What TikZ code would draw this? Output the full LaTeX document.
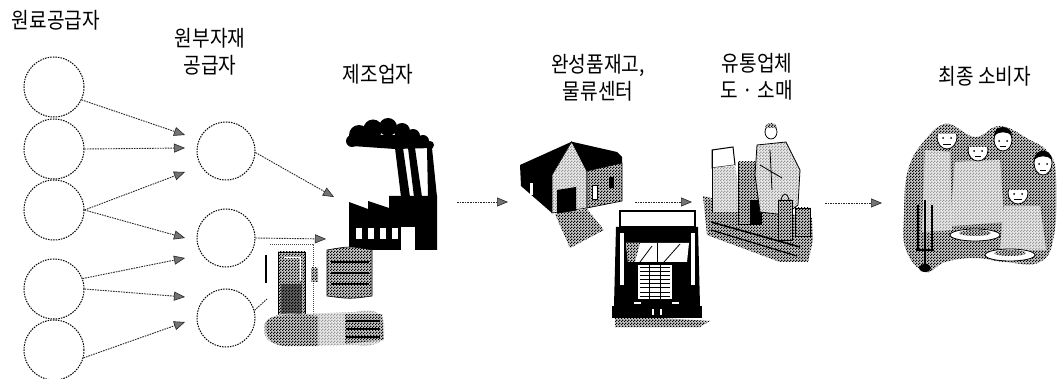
\documentclass[tikz,border=0pt]{standalone}
\usepackage{fontspec}
\newfontfamily\kr[FakeStretch=0.87]{Noto Sans CJK KR}
\usetikzlibrary{arrows.meta,patterns.meta}

% checkerboard used for the halftone clip-art fills
\tikzdeclarepattern{
  name=dither, type=uncolored,
  bottom left={(0pt,0pt)}, top right={(3pt,3pt)}, tile size={(3pt,3pt)},
  code={
    \pgfpathrectangle{\pgfpointorigin}{\pgfpoint{1.5pt}{1.5pt}}
    \pgfpathrectangle{\pgfpoint{1.5pt}{1.5pt}}{\pgfpoint{1.5pt}{1.5pt}}
    \pgfusepath{fill}
  }
}

\begin{document}
\begin{tikzpicture}[x=1pt,y=-1pt,
  heading/.style={font=\kr\fontsize{22}{27}\selectfont, align=center, inner sep=0pt},
  supplier/.style={circle, draw=black, dash pattern=on 1.5pt off 1.1pt,
    line width=1pt, minimum size=60pt, inner sep=0pt},
  flow/.style={draw=black!85, dash pattern=on 1.6pt off 1pt, line width=0.9pt,
    -{Triangle[length=11pt,width=9pt,fill=black!55,line width=0.6pt]}},
  dith/.style={fill=black!20, postaction={pattern=dither, pattern color=#1}},
  dith/.default=black,
  light/.style={fill=black!8, postaction={pattern=dither, pattern color=black!40}}]

\useasboundingbox (0,0) rectangle (1057,379);
\fill[white] (0,0) rectangle (1057,379);

% ---------- headings ----------
\node[heading] (lraw) at (56,20)  {원료공급자};
\node[heading] (lsub) at (210,52) {원부자재\\공급자};
\node[heading] (lmfg) at (378,74) {제조업자};
\node[heading] (lwh)  at (598,78) {완성품재고,\\물류센터};
\node[heading] (lret) at (757,77) {유통업체\\도 · 소매};
\node[heading] (lcon) at (985,76) {최종 소비자};

% ---------- raw material suppliers ----------
\node[supplier] (c1) at (54,87)  {};
\node[supplier] (c2) at (54,149) {};
\node[supplier] (c3) at (54,210) {};
\node[supplier] (c4) at (54,289) {};
\node[supplier] (c5) at (54,350) {};

% ---------- component suppliers ----------
\node[supplier, minimum size=58pt] (cA) at (226,151) {};
\node[supplier, minimum size=58pt] (cB) at (226,238) {};
\node[supplier, minimum size=58pt] (cC) at (226,318) {};

\coordinate (t1) at (185,135);
\coordinate (t2) at (185,148);
\coordinate (t3) at (185,172);
\coordinate (t4) at (185,238);
\coordinate (t5) at (185,258);
\coordinate (t6) at (185,297);
\coordinate (t7) at (185,322);
\draw[flow] (c1.-25) -- (t1);
\draw[flow] (c2.0)   -- (t2);
\draw[flow] (c3.0)   -- (t3);
\draw[flow] (c3.0)   -- (t4);
\draw[flow] (c4.20)  -- (t5);
\draw[flow] (c4.0)   -- (t6);
\draw[flow] (c5.-15) -- (t7);

\coordinate (fa) at (334,197);
\coordinate (fb) at (326,239);
\coordinate (mat) at (267,299);
\draw[flow] (cA.-3) -- (fa);
\draw[flow] (cB.0) -- (fb);
\draw[draw=black!85, dash pattern=on 1.6pt off 1pt, line width=0.9pt] (cC.15) -- (mat);

% ---------- factory ----------
\fill (352,141) circle (6);
\fill (359,135) circle (10);
\fill (373,129) circle (9.5);
\fill (388,127) circle (9);
\fill (402,131) circle (8);
\fill (413,136) circle (7);
\fill (423,141) circle (6);
\fill (430,145) circle (4);
\fill (355,134) -- (424,136) -- (433,148) -- (395,149) -- (352,146) -- cycle;
\fill (395,148) -- (403,148) -- (410,197) -- (401,197) -- cycle;
\fill (408,148) -- (415,148) -- (422,197) -- (414,197) -- cycle;
\fill (427,148) -- (432,148) -- (437,197) -- (428,197) -- cycle;
\fill (349,250) -- (349,202) -- (368,209) -- (368,201) -- (389,208) -- (389,196)
      -- (437,196) -- (437,250) -- cycle;
\fill[white] (356,228) rectangle (362,239);
\fill[white] (368,228) rectangle (374,239);
\fill[white] (380,228) rectangle (386,239);
\fill[white] (392,228) rectangle (398,239);
\fill[white] (401,227) rectangle (415,250);

% ---------- materials in hand ----------
\draw[line width=1.2pt] (266,255) -- (266,283);
\draw[black!70, dash pattern=on 1pt off 1pt, line width=0.8pt]
  (270,244) -- (313,244) -- (313,318);
\path[dith] (278,252) rectangle (305,318);
\fill[black!60] (281,284) rectangle (302,316);
\path[pattern=dither, pattern color=black] (281,284) rectangle (302,316);
\draw[line width=0.7pt] (278,252) rectangle (305,318);
\draw[white, line width=1pt] (284,258) -- (300,258) -- (300,280);
\path[dith] (311,268) rectangle (318,282);
\path[dith] (327,250) .. controls (350,246) .. (372,250) -- (372,296)
  .. controls (350,299) .. (327,296) -- cycle;
\draw[line width=0.6pt] (327,250) .. controls (350,246) .. (372,250) -- (372,296)
  .. controls (350,299) .. (327,296) -- cycle;
\foreach \yy in {262,273,284} \draw[line width=1.4pt] (331,\yy) -- (369,\yy);
\path[light] (264,330) .. controls (262,318) and (275,312) .. (300,314) -- (355,312)
  .. controls (375,308) and (386,312) .. (384,330)
  .. controls (386,345) and (370,347) .. (355,345) -- (290,346)
  .. controls (272,346) and (264,340) .. (264,330) -- cycle;
\path[dith] (266,322) .. controls (270,314) and (300,313) .. (318,316)
  -- (318,346) -- (285,346) .. controls (270,345) and (264,336) .. (266,322) -- cycle;
\path[dith] (345,314) -- (382,314) -- (384,340) -- (345,344) -- cycle;
\foreach \yy in {321,329,337} \draw[line width=1.2pt] (346,\yy) -- (380,\yy);

% ---------- warehouse ----------
\fill (571.7,141.7) -- (520,165) -- (521,186) -- (552,213) -- (552,175) -- cycle;
\fill[white] (530,183) rectangle (533,195);
\path[light] (571.7,141.7) -- (552,175) -- (552,213) -- (587,208) -- (587,171) -- cycle;
\draw[line width=0.6pt] (571.7,141.7) -- (552,175) -- (552,213) -- (587,208) -- (587,171) -- cycle;
\fill (557,190) -- (576,187) -- (576,211) -- (557,214) -- cycle;
\fill (571.7,141.7) -- (617,152) -- (622,157) -- (622,164) -- (587,172) -- cycle;
\path[dith] (587,171) -- (622,163) -- (622,201) -- (587,208) -- cycle;
\draw[line width=0.6pt] (587,171) -- (622,163) -- (622,201) -- (587,208) -- cycle;
\draw[line width=0.8pt, fill=white] (592,185) rectangle (597,199);
\fill (609,177) rectangle (614,188);
\path[dith] (555,214) -- (587,209) -- (604,230) -- (570,248) -- cycle;

% ---------- truck ----------
\draw[line width=1.6pt, fill=white] (620,211) rectangle (695,227);
\fill (616,227) -- (698,227) -- (700,306) -- (614,306) -- cycle;
\fill[white] (626,243) -- (689,243) -- (687,262) -- (628,262) -- cycle;
\path[dith] (626,243) -- (640,243) -- (635,262) -- (628,262) -- cycle;
\draw[line width=1pt] (657,243) -- (657,262);
\draw[line width=0.8pt] (664,262) -- (680,244);
\draw[line width=0.8pt] (640,262) -- (652,246);
\fill[white] (620,233) rectangle (624,285);
\fill[white] (691,233) rectangle (695,285);
\fill[white] (638,265) rectangle (672,299);
\foreach \yy in {268,272,276,280,284,288,292,296}
  \draw[line width=1pt] (640,\yy) -- (670,\yy);
\draw[line width=0.8pt] (649.5,265) -- (649.5,299);
\draw[line width=0.8pt] (660.5,265) -- (660.5,299);
\fill (612,306) rectangle (702,318);
\fill[white] (634,302) rectangle (641,304);
\fill[white] (672,302) rectangle (679,304);
\fill[white] (652,309) rectangle (654,315);
\fill[white] (660,309) rectangle (662,315);
\path[dith] (660,318) -- (710,321) -- (700,327) -- (615,327) -- (615,318) -- cycle;

% ---------- retailer ----------
\path[dith] (703,196) -- (740,205) -- (812,218) -- (813,240) -- (808,262)
  -- (780,262) -- (707,235) -- cycle;
\draw[line width=1.6pt] (711,222) -- (800,247);
\draw[line width=1.2pt] (711,230) -- (797,256);
\draw[line width=1pt, fill=white] (712,150) -- (733,147) -- (735,165) -- (712,168) -- cycle;
\path[light] (712,168) -- (735,165) -- (742,212) -- (712,212) -- cycle;
\draw[line width=1pt] (712,150) -- (712,212);
\path[dith] (738,162) rectangle (762,225);
\fill (750,200) rectangle (762,225);
\draw[line width=1pt] (738,162) -- (738,225) -- (762,225);
\path[light] (757,145) -- (786,142) -- (800,170) -- (798,205) -- (785,215)
  -- (760,212) -- (755,175) -- cycle;
\draw[line width=0.8pt] (757,145) -- (786,142) -- (800,170) -- (798,205) -- (785,215)
  -- (760,212) -- (755,175) -- cycle;
\draw[line width=0.8pt] (770,150) -- (772,190) (760,165) -- (782,178);
\draw[line width=0.8pt, fill=white] (771,132) ellipse [x radius=6, y radius=7];
\path[dith] (765,128) .. controls (766,121) and (776,121) .. (777,128) -- cycle;
\path[dith] (778,200) rectangle (792,240);
\draw[line width=0.8pt] (778,200) rectangle (792,240);
\path[dith] (795,208) rectangle (810,236);
\draw[line width=0.8pt] (795,208) rectangle (810,236);
\draw[line width=0.8pt] (781,200) .. controls (783,192) and (787,192) .. (789,200);

% ---------- consumers ----------
\path[dith] plot[smooth cycle, tension=0.7] coordinates {
  (904,215) (908,170) (925,140) (947,124) (975,137) (1000,126) (1030,140)
  (1048,152) (1056,175) (1054,235) (1040,262) (1005,262) (975,258)
  (945,262) (925,272) (906,250)};
\path[light] (955,162) -- (1000,160) -- (1004,222) -- (950,226) -- cycle;
\path[light] (1004,206) -- (1040,206) -- (1046,250) -- (1000,250) -- cycle;
\path[light] (925,150) -- (950,152) -- (952,230) -- (922,232) -- cycle;
\foreach \cx/\cy/\rx/\ry in {947/137/10/12, 978/150/10/11, 1003/140/9/11,
                             1043/163/9/12, 1018/193/10/11}
  \draw[line width=0.8pt, fill=white] (\cx,\cy) ellipse [x radius=\rx, y radius=\ry];
\fill (994,136) .. controls (994,124) and (1012,124) .. (1012,136)
  .. controls (1008,131) and (998,131) .. (994,136) -- cycle;
\fill (1034,160) .. controls (1034,148) and (1052,148) .. (1052,160)
  .. controls (1048,155) and (1038,155) .. (1034,160) -- cycle;
\path[dith] (937,134) .. controls (937,120) and (957,120) .. (957,134) -- cycle;
\path[dith] (968,147) .. controls (968,136) and (988,136) .. (988,147) -- cycle;
\path[dith] (1008,190) .. controls (1008,179) and (1028,179) .. (1028,190) -- cycle;
\foreach \ex/\ey in {943/138, 951/138, 974/151, 982/151, 999/141, 1007/141,
                     1039/164, 1047/164, 1014/194, 1022/194}
  \fill (\ex,\ey) circle (1);
\draw[line width=0.8pt] (943,144) -- (951,144) (975,156) -- (981,156)
  (1000,146) -- (1006,146) (1040,170) -- (1046,170) (1014,199) -- (1022,199);
\draw[line width=0.8pt, fill=white] (975,235) ellipse [x radius=25, y radius=6];
\path[dith] (975,233) ellipse [x radius=16, y radius=3];
\draw[line width=0.8pt, fill=white] (1010,255) ellipse [x radius=25, y radius=6];
\path[dith] (1010,253) ellipse [x radius=16, y radius=3];
\draw[line width=1.5pt] (918,205) -- (918,250) (925,200) -- (925,250)
  (932,205) -- (932,250) (916,250) -- (934,250) (925,250) -- (925,265);
\fill (925,268) ellipse [x radius=6, y radius=4];

% ---------- downstream flow ----------
\coordinate (f1) at (457,202);
\coordinate (w1) at (508,202);
\coordinate (w2) at (635,202);
\coordinate (r1) at (692,202);
\coordinate (r2) at (825,203);
\coordinate (p1) at (882,203);
\draw[flow] (f1) -- (w1);
\draw[flow] (w2) -- (r1);
\draw[flow] (r2) -- (p1);
\end{tikzpicture}
\end{document}
